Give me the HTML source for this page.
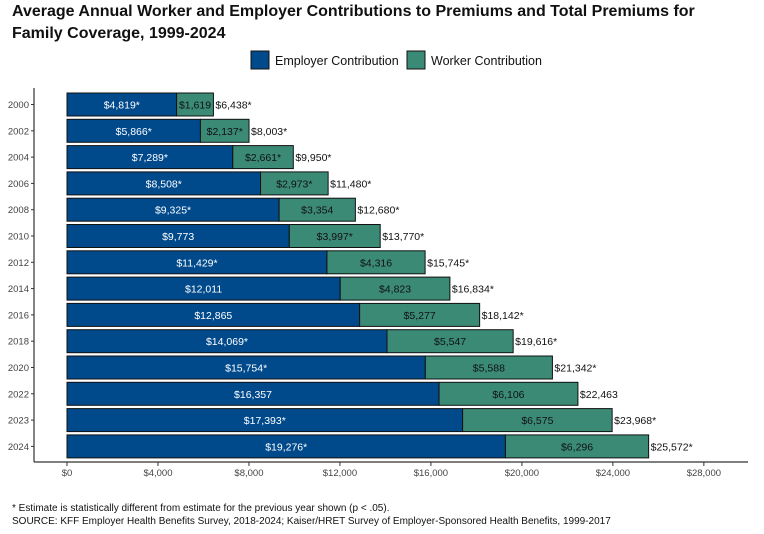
<!DOCTYPE html>
<html><head><meta charset="utf-8"><style>
body{margin:0;background:#fff;width:764px;height:529px;overflow:hidden;font-family:"Liberation Sans",sans-serif;}
</style></head><body>
<svg width="764" height="529" xmlns="http://www.w3.org/2000/svg" font-family="Liberation Sans, sans-serif">
<text x="12" y="16" font-size="16" font-weight="bold" fill="#111">Average Annual Worker and Employer Contributions to Premiums and Total Premiums for</text>
<text x="12" y="38" font-size="16" font-weight="bold" fill="#111">Family Coverage, 1999-2024</text>
<g>
<rect x="251" y="51" width="18" height="18" fill="#004a8c" stroke="#111"/>
<text x="275" y="65" font-size="12.5" fill="#111">Employer Contribution</text>
<rect x="407" y="51" width="18" height="18" fill="#3a8a75" stroke="#111"/>
<text x="431" y="65" font-size="12.5" fill="#111">Worker Contribution</text>
</g>
<g id="plot"></g>
<text x="12" y="511" font-size="10" fill="#111">* Estimate is statistically different from estimate for the previous year shown (p &lt; .05).</text>
<text x="12" y="524" font-size="10" fill="#111">SOURCE: KFF Employer Health Benefits Survey, 2018-2024; Kaiser/HRET Survey of Employer-Sponsored Health Benefits, 1999-2017</text>
</svg>
<script>
const years=["2000","2002","2004","2006","2008","2010","2012","2014","2016","2018","2020","2022","2023","2024"];
const employer=[4819,5866,7289,8508,9325,9773,11429,12011,12865,14069,15754,16357,17393,19276];
const worker=[1619,2137,2661,2973,3354,3997,4316,4823,5277,5547,5588,6106,6575,6296];
const total=[6438,8003,9950,11480,12680,13770,15745,16834,18142,19616,21342,22463,23968,25572];
const empSig=[1,1,1,1,1,0,1,0,0,1,1,0,1,1];
const wrkSig=[0,1,1,1,0,1,0,0,0,0,0,0,0,0];
const totSig=[1,1,1,1,1,1,1,1,1,1,1,0,1,1];
const xTicks=[0,4000,8000,12000,16000,20000,24000,28000];
const NS="http://www.w3.org/2000/svg";
const g=document.getElementById("plot");
const x=v=>67+v*0.022745;
const y=i=>104.5+i*26.3;
const bh=23;
const fmt=v=>"$"+v.toLocaleString("en-US");
function mk(t,a,txt){const e=document.createElementNS(NS,t);for(const k in a)e.setAttribute(k,a[k]);if(txt!==undefined)e.textContent=txt;g.appendChild(e);return e;}
let ax=mk("line",{x1:34,y1:88,x2:34,y2:462,stroke:"#333","stroke-width":1.2});


let bx=mk("line",{x1:34,y1:462,x2:748,y2:462,stroke:"#333","stroke-width":1.2});


xTicks.forEach(t=>{
 let tk=mk("line",{x1:x(t),y1:462,x2:x(t),y2:466,stroke:"#333"});
 
 
 let tl=mk("text",{x:x(t),y:476,"font-size":9.5,"text-anchor":"middle",fill:"#444"},fmt(t));
 
 
});
years.forEach((yr,i)=>{
 const cy=y(i);
 let tk=mk("line",{x1:31,y1:cy,x2:34,y2:cy,stroke:"#333"});
 
 
 let yl=mk("text",{x:29,y:cy+3.5,"font-size":9.5,"text-anchor":"end",fill:"#444"},yr);
 
 
 let b1=mk("rect",{x:x(0),y:cy-bh/2,width:x(employer[i])-x(0),height:bh,fill:"#004a8c",stroke:"#111","stroke-width":1});
 
 
 let b2=mk("rect",{x:x(employer[i]),y:cy-bh/2,width:x(employer[i]+worker[i])-x(employer[i]),height:bh,fill:"#3a8a75",stroke:"#111","stroke-width":1});
 
 
 let l1=mk("text",{x:(x(0)+x(employer[i]))/2,y:cy+4,"font-size":10.5,"text-anchor":"middle",fill:"#fff"},fmt(employer[i])+(empSig[i]?"*":""));
 
 
 let l2=mk("text",{x:(x(employer[i])+x(employer[i]+worker[i]))/2,y:cy+4,"font-size":10.5,"text-anchor":"middle",fill:"#111"},fmt(worker[i])+(wrkSig[i]?"*":""));
 
 
 let l3=mk("text",{x:x(employer[i]+worker[i])+2,y:cy+4,"font-size":10.5,fill:"#111"},fmt(total[i])+(totSig[i]?"*":""));
 
 
});
</script>
</body></html>
